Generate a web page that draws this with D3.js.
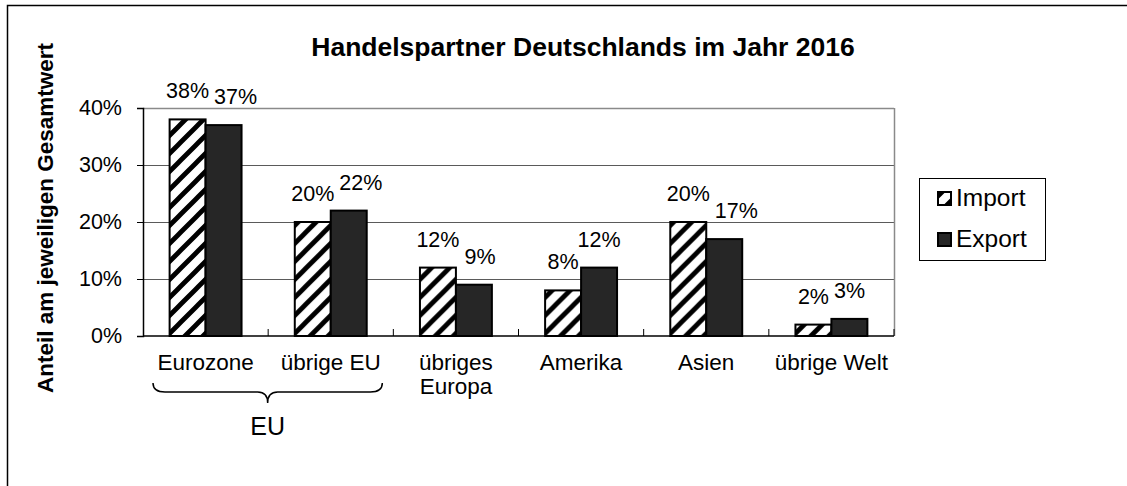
<!DOCTYPE html>
<html><head><meta charset="utf-8">
<script src="https://cdn.jsdelivr.net/npm/d3@7"></script>
<style>
html,body{margin:0;padding:0;background:#fff;}
text{font-family:"Liberation Sans",Arial,sans-serif;fill:#000;}
</style></head>
<body><svg id="c" width="1127" height="486"></svg>
<script>
const categories = ["Eurozone", "übrige EU", "übriges\nEuropa", "Amerika", "Asien", "übrige Welt"];
const seriesNames = ["Import", "Export"];
const importValues = [38, 20, 12, 8, 20, 2];
const exportValues = [37, 22, 9, 12, 17, 3];
const yTicks = [0, 10, 20, 30, 40];
const titleText = "Handelspartner Deutschlands im Jahr 2016";
const yTitleText = "Anteil am jeweiligen Gesamtwert";
const braceGroup = ["Eurozone", "übrige EU"];
const braceLabel = "EU";

const svg = d3.select("#c");
const plot = {left: 143, right: 894, top: 108, bottom: 336};

// outer frame
svg.append("rect").attr("x", 7.5).attr("y", 5.5).attr("width", 1300).attr("height", 700)
  .attr("fill", "none").attr("stroke", "#000").attr("stroke-width", 1.5);

// patterns
const defs = svg.append("defs");
const pat = defs.append("pattern").attr("id", "hatch").attr("patternUnits", "userSpaceOnUse")
  .attr("width", 18).attr("height", 18);
pat.append("rect").attr("width", 18).attr("height", 18).attr("fill", "#fff");
pat.append("path").attr("d", "M-4.5,4.5 L4.5,-4.5 M0,18 L18,0 M13.5,22.5 L22.5,13.5")
  .attr("stroke", "#000").attr("stroke-width", 4.8);

const x0 = d3.scaleBand().domain(categories).range([plot.left, plot.right]).paddingInner(0).paddingOuter(0);
const x1 = d3.scaleBand().domain(seriesNames).range([0, x0.bandwidth()]).paddingInner(0).paddingOuter(0.74);
const y = d3.scaleLinear().domain([0, 40]).range([plot.bottom, plot.top]);
const fills = {Import: "url(#hatch)", Export: "#262626"};

// gridlines
svg.append("g").selectAll("line").data(yTicks.filter(d => d > 0)).join("line")
  .attr("x1", plot.left).attr("x2", plot.right)
  .attr("y1", d => Math.round(y(d)) + 0.5).attr("y2", d => Math.round(y(d)) + 0.5)
  .attr("stroke", d => d === 40 ? "#8a8a8a" : "#5a5a5a").attr("stroke-width", d => d === 40 ? 1.5 : 1);
// right plot border
svg.append("line").attr("x1", plot.right + 0.5).attr("x2", plot.right + 0.5)
  .attr("y1", plot.top).attr("y2", plot.bottom).attr("stroke", "#8a8a8a").attr("stroke-width", 1.5);

// bars
const rows = categories.map((c, i) => ({cat: c, vals: [
  {key: "Import", v: importValues[i]}, {key: "Export", v: exportValues[i]}]}));
const groups = svg.append("g").selectAll("g").data(rows).join("g")
  .attr("transform", d => `translate(${x0(d.cat)},0)`);
groups.selectAll("rect").data(d => d.vals).join("rect")
  .attr("x", d => x1(d.key)).attr("width", x1.bandwidth())
  .attr("y", d => y(d.v)).attr("height", d => y(0) - y(d.v))
  .attr("fill", d => fills[d.key]).attr("stroke", "#000").attr("stroke-width", 2);

// axes
const yAxis = d3.axisLeft(y).tickValues(yTicks).tickFormat(d => d + "%").tickSize(6).tickPadding(15);
const ya = svg.append("g").attr("transform", `translate(${plot.left},0)`).call(yAxis);
ya.select(".domain").attr("stroke", "#000").attr("stroke-width", 1.5);
ya.selectAll("text").attr("font-size", 21.5).style("font-family", "Liberation Sans, Arial, sans-serif").attr("fill", "#000");

svg.append("line").attr("x1", plot.left).attr("x2", plot.right).attr("y1", plot.bottom).attr("y2", plot.bottom)
  .attr("stroke", "#000").attr("stroke-width", 1.5);
// x ticks at category boundaries (inward)
const bounds = categories.map(c => x0(c)).concat([plot.right]);
svg.append("g").selectAll("line").data(bounds.slice(1)).join("line")
  .attr("x1", d => d).attr("x2", d => d).attr("y1", plot.bottom).attr("y2", plot.bottom - 7)
  .attr("stroke", "#000").attr("stroke-width", 1);

// category labels
const cl = svg.append("g").selectAll("text").data(categories).join("text")
  .attr("x", d => x0(d) + x0.bandwidth() / 2).attr("y", plot.bottom + 34)
  .attr("text-anchor", "middle").attr("font-size", 22.5);
cl.each(function(d) {
  const parts = d.split("\n");
  d3.select(this).selectAll("tspan").data(parts).join("tspan")
    .attr("x", x0(d) + x0.bandwidth() / 2).attr("dy", (p, i) => i === 0 ? 0 : 24).text(p => p);
});

// data labels with simple collision avoidance
const gap = 5;
groups.each(function(d) {
  const g = d3.select(this);
  const labels = d.vals.map(v => {
    const cx = x1(v.key) + x1.bandwidth() / 2;
    const t = g.append("text").attr("x", cx).attr("y", y(v.v) - 21)
      .attr("text-anchor", "middle").attr("font-size", 21.5).text(v.v + "%");
    const w = t.node().getComputedTextLength();
    return {t, cx, w, yb: y(v.v) - 21};
  });
  const a = labels[0], b = labels[1];
  const aRight = a.cx + a.w / 2, bLeft = b.cx - b.w / 2;
  if (Math.abs(a.yb - b.yb) < 22 && aRight + gap > bLeft) {
    const shift = aRight + gap - bLeft;
    b.t.attr("x", b.cx + shift);
  }
});

// title
svg.append("text").attr("x", 583).attr("y", 56).attr("text-anchor", "middle")
  .attr("font-size", 26.5).attr("font-weight", "bold").text(titleText);
// y title
svg.append("text").attr("transform", "translate(53,218) rotate(-90)").attr("text-anchor", "middle")
  .attr("font-size", 22.5).attr("font-weight", "bold").text(yTitleText);

// brace
const bx0 = x0(braceGroup[0]) + 10, bx1 = x0(braceGroup[braceGroup.length - 1]) + x0.bandwidth() - 11;
const bm = (bx0 + bx1) / 2, by0 = plot.bottom + 47, by1 = plot.bottom + 56, by2 = plot.bottom + 67;
svg.append("path")
  .attr("d", `M${bx0},${by0} Q${bx0},${by1} ${bx0 + 12},${by1} L${bm - 10},${by1} Q${bm},${by1} ${bm},${by2} Q${bm},${by1} ${bm + 10},${by1} L${bx1 - 12},${by1} Q${bx1},${by1} ${bx1},${by0}`)
  .attr("fill", "none").attr("stroke", "#000").attr("stroke-width", 1.5);
svg.append("text").attr("x", bm).attr("y", plot.bottom + 99).attr("text-anchor", "middle")
  .attr("font-size", 25).text(braceLabel);

// legend
const lg = svg.append("g");
lg.append("rect").attr("x", 919.5).attr("y", 178.5).attr("width", 126).attr("height", 82)
  .attr("fill", "#fff").attr("stroke", "#000").attr("stroke-width", 1);
seriesNames.forEach((s, i) => {
  const yy = 192 + i * 41;
  lg.append("rect").attr("x", 938).attr("y", yy).attr("width", 13).attr("height", 13)
    .attr("fill", fills[s]).attr("stroke", "#000").attr("stroke-width", 2);
  lg.append("text").attr("x", 956).attr("y", yy + 14).attr("font-size", 24.5).text(s);
});
</script></body></html>
